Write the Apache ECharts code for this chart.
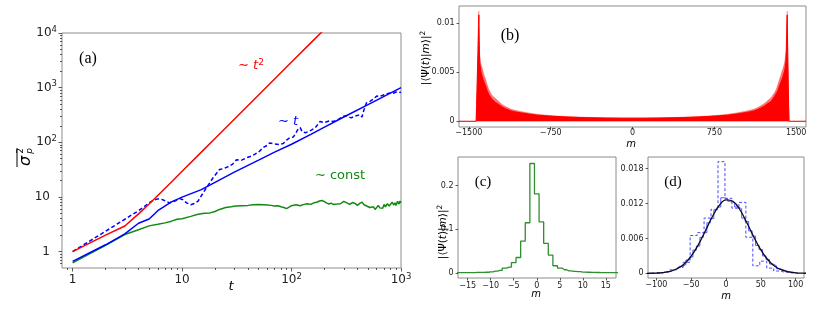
<!DOCTYPE html>
<html><head><meta charset="utf-8">
<script src="https://cdn.jsdelivr.net/npm/echarts@6/dist/echarts.min.js"></script>
<style>html,body{margin:0;padding:0;background:#fff}#c{width:830px;height:316px}</style>
</head><body><div id="c"></div>
<script>
// ---------- Panel (a) data ----------
const tRed  = [1,2,3,4,5,6,7,8,10,15,20,30,50,70,100,150,200];
const sRed  = [1,2.0,2.93,4.9,7.4,10.6,14.4,18.8,29.4,66,117,264,735,1440,2940,6600,11700];
const tBlue = [1,2,3,4,5,6,8,10,15,20,30,50,70,100,150,200,300,500,700,1000];
const sBlue = [0.66,1.33,2.1,3.3,3.95,5.6,8.1,9.9,13.6,18.5,28.5,47,66,92,140,190,290,490,690,1000];
const tDash = [1,2,3,4,4.5,5,5.5,6,6.5,7,7.7,8.5,9.5,10.2,11,12,13,14,15.6,17,19.2,22,24,27,29,31.4,35,38.8,42,46,51,55,60,63,70,78,84,90,96,104,110,115,120,125,135,150,165,182,200,220,241,270,300,317,350,380,420,440,460,483,520,560,600,640,700,760,800,850,900,950,1000];
const sDash = [1,2.35,3.9,5.6,6.6,7.8,8.7,9.2,9.0,8.5,7.8,8.3,9.3,8.9,7.8,7.2,7.6,8.4,11.9,15.5,22.4,31.8,33,36.5,40,48,47,52,55,60,68.5,80,88,97,93,91,95,110,120,125,150,175,185,155,150,165,185,240,230,245,240,265,300,307,280,300,320,290,400,525,560,620,700,690,740,780,800,790,830,810,820];
const tGreen = [1,2,3,4,5,6,7,8,9,10,12,14,16,18,20,22,25,28,31,35,40,45,50,55,60,65,70,75,80,85,90,95,100,110,120,130,140,150,160,170,180,190,200,210,220,230,240,250,260,270,280,290,300,320,340,360,380,400,420,440,460,480,500,520,540,560,580,600,620,640,660,680,700,720,750,780,800,830,860,880,900,930,960,980,1000];
const sGreen = [0.62,1.3,2.05,2.5,2.95,3.15,3.35,3.6,3.9,4.0,4.4,4.8,5.0,5.1,5.4,5.9,6.4,6.6,6.8,6.9,7.0,7.2,7.3,7.2,7.1,7.0,6.8,6.9,6.6,6.4,6.1,6.5,6.9,7.2,6.9,7.3,7.5,7.3,7.8,8.0,8.4,8.6,8.2,7.7,7.4,7.7,7.3,7.0,7.4,7.8,7.5,8.0,8.3,7.8,7.3,7.9,7.6,7.0,7.6,8.0,7.2,6.9,7.5,6.4,6.0,6.6,5.9,6.4,7.0,6.3,6.8,6.2,7.3,6.6,7.5,6.8,7.2,8.0,7.1,7.8,7.0,8.3,7.4,8.4,7.8];
const aXTicks = [1,10,100,1000];
const aYTicks = [1,10,100,1000,10000];
const aXMinor = [0.9,2,3,4,5,6,7,8,9,20,30,40,50,60,70,80,90,200,300,400,500,600,700,800,900];
const aYMinor = [0.6,0.7,0.8,0.9,2,3,4,5,6,7,8,9,20,30,40,50,60,70,80,90,200,300,400,500,600,700,800,900,2000,3000,4000,5000,6000,7000,8000,9000];

// ---------- Panel (b) data ----------
const mB  = [-1590,-1433,-1429,-1423,-1416,-1411,-1408,-1405,-1401,-1396,-1390,-1384,-1376,-1368,-1358,-1347,-1332,-1316,-1301,-1285,-1270,-1255,-1240,-1225,-1209,-1195,-1180,-1164,-1148,-1118,-1087,-1056,-1026,-950,-873,-800,-720,-600,-414,-250,-108,0,108,250,414,600,720,800,873,950,1026,1056,1087,1118,1148,1164,1180,1195,1209,1225,1240,1255,1270,1285,1301,1316,1332,1347,1358,1368,1378,1386,1394,1400,1406,1411,1415,1418,1421,1426,1431,1435,1590];
const pUp = [0,0,0.0018,0.0045,0.0078,0.0105,0.0112,0.0090,0.0068,0.0064,0.0059,0.0056,0.0053,0.0050,0.0046,0.0043,0.0037,0.0032,0.0029,0.0026,0.0024,0.0023,0.0021,0.0020,0.0018,0.0017,0.0016,0.0015,0.0014,0.00125,0.00115,0.00108,0.00100,0.00085,0.00072,0.00063,0.00056,0.00048,0.00040,0.00036,0.00034,0.00034,0.00034,0.00036,0.00040,0.00048,0.00056,0.00063,0.00072,0.00085,0.00100,0.00108,0.00115,0.00125,0.0014,0.0015,0.0016,0.0017,0.0018,0.0020,0.0021,0.0023,0.0024,0.0026,0.0029,0.0032,0.0037,0.0043,0.0046,0.0050,0.0053,0.0056,0.0060,0.0065,0.0070,0.0085,0.0105,0.0112,0.0090,0.0055,0.0020,0,0];
const pLo = [0,0,0.0015,0.0040,0.0070,0.0098,0.0108,0.0082,0.0060,0.0056,0.0051,0.0048,0.0045,0.0042,0.0039,0.0036,0.0031,0.0027,0.0025,0.0022,0.0020,0.0019,0.0018,0.0017,0.00155,0.00145,0.00137,0.00128,0.0012,0.00107,0.00098,0.00092,0.00086,0.00073,0.00062,0.00055,0.0005,0.00043,0.00036,0.00033,0.00032,0.00032,0.00032,0.00033,0.00036,0.00043,0.0005,0.00055,0.00062,0.00073,0.00086,0.00092,0.00098,0.00107,0.0012,0.00128,0.00137,0.00145,0.00155,0.0017,0.0018,0.0019,0.0020,0.0022,0.0025,0.0027,0.0031,0.0036,0.0039,0.0042,0.0045,0.0048,0.0051,0.0055,0.0060,0.0075,0.0098,0.0108,0.0080,0.0045,0.0015,0,0];
const bXTicks = [-1500,-750,0,750,1500];
const bYTicks = [0,0.005,0.01];

// ---------- Panel (c) data ----------
const mC = [-18,-17,-16,-15,-14,-13,-12,-11,-10,-9,-8,-7,-6,-5,-4,-3,-2,-1,0,1,2,3,4,5,6,7,8,9,10,11,12,13,14,15,16,17,18];
const pC = [0.0008,0.0008,0.0009,0.0010,0.0011,0.0013,0.0015,0.0018,0.0025,0.0045,0.0060,0.0113,0.0136,0.0240,0.0355,0.0730,0.1150,0.2506,0.1810,0.1170,0.0680,0.0410,0.0166,0.0113,0.0075,0.0050,0.0038,0.0030,0.0022,0.0018,0.0015,0.0012,0.0010,0.0009,0.0008,0.0007,0.0007];
const cXTicks = [-15,-10,-5,0,5,10,15];
const cYTicks = [0,0.1,0.2];

// ---------- Panel (d) data ----------
const mG = [-120,-110,-100,-90,-80,-70,-60,-50,-40,-30,-20,-10,0,10,20,30,40,50,60,70,80,90,100,110,120];
const pG = [0.000005,0.000016,0.00005,0.00014,0.00035,0.00079,0.00161,0.00295,0.00485,0.0072,0.00964,0.01163,0.01264,0.01238,0.01093,0.00869,0.00623,0.00403,0.00234,0.00123,0.00058,0.00025,0.000095,0.000033,0.00001];
const mHA = [-106.5,-96.5,-86.5,-76.5,-66.5,-56.5,-46.5,-36.5,-26.5,-16.5,-6.5,3.5,13.5,23.5,33.5,43.5,53.5,63.5,73.5,83.5,93.5,103.5];
const pHA = [0.00003,0.00006,0.00025,0.0006,0.0010,0.0019,0.0065,0.0070,0.0095,0.0110,0.0192,0.0129,0.0112,0.0122,0.0062,0.0013,0.0021,0.0009,0.0004,0.0002,0.00008,0.00003];
const mHB = [-100,-95,-90,-85,-80,-75,-70,-65,-60,-55,-50,-45,-40,-35,-30,-25,-20,-15,-10,-5,0,5,10,15,20,25,30,35,40,45,50,55,60,65,70,75,80,85,90,95,100];
const pHB = [0.00005,0.00009,0.00013,0.00025,0.00033,0.0006,0.00075,0.0012,0.0015,0.0023,0.0028,0.0040,0.0047,0.0062,0.0070,0.0087,0.0094,0.0109,0.0114,0.0130,0.0128,0.0124,0.0121,0.0114,0.0111,0.0095,0.0089,0.0073,0.0064,0.0048,0.0041,0.0030,0.0024,0.0016,0.0013,0.0008,0.0006,0.00038,0.00026,0.00015,0.0001];
const dXTicks = [-100,-50,0,50,100];
const dYTicks = [0,0.006,0.012,0.018];

// ---------- helpers ----------
const FONT = 'DejaVu Sans';
const TXT = '#222';
const tick = (vals, len) => ({show: true, length: len, customValues: vals, lineStyle: {color: '#333', width: 0.8}});
const noLine = {show: false, onZero: false};
const minus = v => (v < 0 ? '\u2212' : '') + Math.abs(v);
const lg = v => Math.log10(v);
const supRich = {
  b: {fontSize: 12, lineHeight: 16, color: TXT, fontFamily: FONT},
  s: {fontSize: 8.5, lineHeight: 8, verticalAlign: 'top', color: TXT, fontFamily: FONT},
  p: {width: 7, fontSize: 12, lineHeight: 16}
};
const pow10Label = (e, pad) => {
  if (e === 0) return '{b|1}' + (pad ? '{p| }' : '');
  if (e === 1) return '{b|10}' + (pad ? '{p| }' : '');
  return '{b|10}{s|' + e + '}';
};
const smallLabel = (vals, margin, fmt) => ({
  customValues: vals, fontSize: 8, color: TXT, fontFamily: FONT, margin: margin,
  formatter: fmt || (v => String(v))
});
const pairs = (xs, ys) => xs.map((x, i) => [x, ys[i]]);
const grids = [
  {left: 62, top: 33, width: 339, height: 235},
  {left: 459, top: 6, width: 347, height: 121},
  {left: 458, top: 157, width: 158, height: 121},
  {left: 648, top: 157, width: 156, height: 121}
].map(g => Object.assign(g, {show: true, borderColor: '#8c8c8c', borderWidth: 1, backgroundColor: 'transparent', containLabel: false}));

const xAxis = [
  {gridIndex: 0, type: 'log', logBase: 10, min: 0.8, max: 1000, position: 'bottom',
   axisLine: noLine, axisTick: {show: false}, axisLabel: {show: false}, splitLine: {show: false}},
  {gridIndex: 0, type: 'value', min: lg(0.8), max: 3, position: 'bottom',
   axisLine: noLine, splitLine: {show: false}, axisTick: tick(aXTicks.map(lg), 3.5),
   axisLabel: {customValues: aXTicks.map(lg), margin: 4, rich: supRich,
     formatter: v => pow10Label(Math.round(v), false)}},
  {gridIndex: 0, type: 'value', min: lg(0.8), max: 3, position: 'bottom',
   axisLine: noLine, splitLine: {show: false}, axisTick: tick(aXMinor.map(lg), 2), axisLabel: {show: false}},
  {gridIndex: 1, type: 'value', min: -1590, max: 1590, position: 'bottom',
   axisLine: noLine, splitLine: {show: false}, axisTick: tick(bXTicks, 2.5), axisLabel: smallLabel(bXTicks, 2, minus)},
  {gridIndex: 2, type: 'value', min: -17.1, max: 17.2, position: 'bottom',
   axisLine: noLine, splitLine: {show: false}, axisTick: tick(cXTicks, 2.5), axisLabel: smallLabel(cXTicks, 3.5, minus)},
  {gridIndex: 3, type: 'value', min: -112, max: 112, position: 'bottom',
   axisLine: noLine, splitLine: {show: false}, axisTick: tick(dXTicks, 2.5), axisLabel: smallLabel(dXTicks, 3, minus)}
];
const yAxis = [
  {gridIndex: 0, type: 'log', logBase: 10, min: 0.5, max: 10000, position: 'left',
   axisLine: noLine, axisTick: {show: false}, axisLabel: {show: false}, splitLine: {show: false}},
  {gridIndex: 0, type: 'value', min: lg(0.5), max: 4, position: 'left',
   axisLine: noLine, splitLine: {show: false}, axisTick: tick(aYTicks.map(lg), 3.5),
   axisLabel: {customValues: aYTicks.map(lg), margin: 5, rich: supRich,
     formatter: v => pow10Label(Math.round(v), true)}},
  {gridIndex: 0, type: 'value', min: lg(0.5), max: 4, position: 'left',
   axisLine: noLine, splitLine: {show: false}, axisTick: tick(aYMinor.map(lg), 2), axisLabel: {show: false}},
  {gridIndex: 1, type: 'value', min: -0.00058, max: 0.0117, position: 'left',
   axisLine: noLine, splitLine: {show: false}, axisTick: tick(bYTicks, 2.5), axisLabel: smallLabel(bYTicks, 4.5)},
  {gridIndex: 2, type: 'value', min: -0.0114, max: 0.2655, position: 'left',
   axisLine: noLine, splitLine: {show: false}, axisTick: tick(cYTicks, 2.5), axisLabel: smallLabel(cYTicks, 4.5)},
  {gridIndex: 3, type: 'value', min: -0.0008, max: 0.02, position: 'left',
   axisLine: noLine, splitLine: {show: false}, axisTick: tick(dYTicks, 2.5), axisLabel: smallLabel(dYTicks, 4.5)}
];

const line = (xi, yi, data, color, width, extra) => Object.assign({
  type: 'line', xAxisIndex: xi, yAxisIndex: yi, data: data, symbol: 'none', showSymbol: false,
  lineStyle: {color: color, width: width}, z: 3, animation: false
}, extra || {});

const series = [
  line(0, 0, pairs(tGreen, sGreen), '#138a13', 1.5),
  line(0, 0, pairs(tBlue, sBlue), '#0000ff', 1.5),
  line(0, 0, pairs(tDash, sDash), '#0000ff', 1.5, {lineStyle: {color: '#0000ff', width: 1.5, type: [4, 2.5]}}),
  line(0, 0, pairs(tRed, sRed), '#ff0000', 1.5),
  line(3, 3, pairs(mB, pUp), 'rgba(255,0,0,0.5)', 0.5, {areaStyle: {color: 'rgba(255,0,0,0.55)', opacity: 1}}),
  line(3, 3, pairs(mB, pLo), '#ff0000', 1, {areaStyle: {color: '#ff0000', opacity: 1}}),
  line(4, 4, pairs(mC, pC), '#2f8f2f', 1.3, {step: 'middle'}),
  line(5, 5, pairs(mHB, pHB), '#3030ff', 0.8, {step: 'middle'}),
  line(5, 5, pairs(mHA, pHA), '#4848ff', 1, {step: 'middle', lineStyle: {color: '#4848ff', width: 1, type: [3, 2]}}),
  line(5, 5, pairs(mG, pG), '#0a0a1a', 1.3, {smooth: 0.4})
];

const T = (x, y, text, style, extra) => Object.assign({type: 'text', x: x, y: y, z: 10,
  style: Object.assign({text: text, fontFamily: FONT, fontSize: 13, fill: '#000', align: 'center', verticalAlign: 'middle'}, style || {})}, extra || {});
const psiRich = (fs, fill) => ({
  r: {fontSize: fs, lineHeight: fs + 3, fill: fill, fontFamily: FONT},
  i: {fontSize: fs, lineHeight: fs + 3, fill: fill, fontFamily: FONT, fontStyle: 'italic'},
  s: {fontSize: fs * 0.7, lineHeight: fs * 0.7, fill: fill, fontFamily: FONT, verticalAlign: 'top'}
});
const psiText = '{r||\u27E8\u03A8(}{i|t}{r|)|}{i|m}{r|\u27E9|}{s|2}';

const graphic = [
  T(88, 59, '(a)', {fontFamily: 'Liberation Serif', fontSize: 16}),
  T(510, 36, '(b)', {fontFamily: 'Liberation Serif', fontSize: 16}),
  T(483, 182, '(c)', {fontFamily: 'Liberation Serif', fontSize: 15}),
  T(673, 182, '(d)', {fontFamily: 'Liberation Serif', fontSize: 15}),
  T(251, 66, '{r|\u223C }{i|t}{s|2}', {rich: psiRich(13, '#ff0000')}),
  T(288, 122, '{r|\u223C }{i|t}', {rich: psiRich(13, '#0000ff')}),
  T(340, 176, '\u223C const', {fill: '#138a13', fontSize: 13}),
  T(231, 287, 't', {fontStyle: 'italic', fontSize: 13}),
  T(631, 144, 'm', {fontStyle: 'italic', fontSize: 10}),
  T(536, 294, 'm', {fontStyle: 'italic', fontSize: 10}),
  T(726, 296, 'm', {fontStyle: 'italic', fontSize: 10}),
  T(426, 58, psiText, {rich: psiRich(10.5, '#000')}, {rotation: Math.PI / 2}),
  T(443, 232, psiText, {rich: psiRich(10.5, '#000')}, {rotation: Math.PI / 2}),
  {type: 'group', x: 25, y: 158, rotation: Math.PI / 2, z: 10, children: [
    {type: 'text', x: -3, y: 0.5, style: {text: '\u03C3', fontFamily: FONT, fontSize: 16, fontStyle: 'italic', fill: '#000', align: 'center', verticalAlign: 'middle'}},
    {type: 'line', shape: {x1: -9, y1: -8, x2: 10, y2: -8}, style: {stroke: '#000', lineWidth: 1}},
    {type: 'text', x: 7, y: -4.5, style: {text: '2', fontFamily: FONT, fontSize: 9, fill: '#000', align: 'center', verticalAlign: 'middle'}},
    {type: 'text', x: 7, y: 5, style: {text: 'p', fontFamily: FONT, fontSize: 9, fontStyle: 'italic', fill: '#000', align: 'center', verticalAlign: 'middle'}}
  ]}
];

const chart = echarts.init(document.getElementById('c'), null, {renderer: 'canvas'});
chart.setOption({
  animation: false,
  backgroundColor: '#fff',
  textStyle: {fontFamily: FONT},
  grid: grids,
  xAxis: xAxis,
  yAxis: yAxis,
  series: series,
  graphic: graphic
});
</script>
</body></html>
